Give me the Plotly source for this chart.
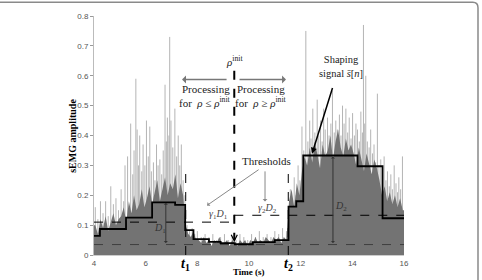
import plotly.graph_objects as go

# ---------------- data ----------------
# dense (dark) part of the rectified sEMG signal, one value per 0.1 s from 4.0 s
bulk_start = 4.0
bulk_step = 0.1
bulk_vals = [
    0.10, 0.07, 0.12, 0.09, 0.13, 0.08, 0.11, 0.14, 0.10, 0.12,
    0.13, 0.16, 0.11, 0.18, 0.14, 0.20, 0.15, 0.17, 0.22, 0.16,
    0.19, 0.23, 0.17, 0.21, 0.25, 0.18, 0.22, 0.26, 0.20, 0.24,
    0.22, 0.27, 0.19, 0.24, 0.20, 0.10, 0.07, 0.06, 0.08, 0.05,
    0.05, 0.04, 0.06, 0.04, 0.05, 0.03, 0.05, 0.04, 0.06, 0.04,
    0.04, 0.05, 0.03, 0.05, 0.04, 0.03, 0.05, 0.04, 0.05, 0.03,
    0.05, 0.04, 0.06, 0.04, 0.05, 0.04, 0.06, 0.05, 0.04, 0.06,
    0.05, 0.06, 0.04, 0.06, 0.05, 0.18, 0.22, 0.16, 0.24, 0.20,
    0.28, 0.33, 0.30, 0.36, 0.31, 0.38, 0.34, 0.29, 0.37, 0.33,
    0.35, 0.40, 0.32, 0.38, 0.42, 0.36, 0.33, 0.39, 0.35, 0.37,
    0.34, 0.30, 0.36, 0.32, 0.28, 0.34, 0.30, 0.27, 0.32, 0.29,
    0.25, 0.20, 0.23, 0.18, 0.21, 0.17, 0.20, 0.16, 0.19, 0.15,
]

# individual light spikes of the signal (time s, amplitude)
spike_t = [
    4.05, 4.15, 4.25, 4.35, 4.45, 4.55, 4.65, 4.75, 4.85, 4.95,
    5.05, 5.15, 5.20, 5.30, 5.42, 5.50, 5.55, 5.62, 5.67, 5.72,
    5.77, 5.85, 5.90, 5.97, 6.03, 6.10, 6.16, 6.22, 6.30, 6.36,
    6.42, 6.48, 6.55, 6.62, 6.68, 6.75, 6.80, 6.84, 6.90, 6.93,
    6.98, 7.05, 7.13, 7.20, 7.26, 7.32, 7.38, 7.45, 7.52,
    7.60, 7.70, 7.80, 7.90, 8.00, 8.15, 8.30, 8.45, 8.60, 8.75,
    8.90, 9.05, 9.20, 9.35, 9.50, 9.65, 9.80, 9.95, 10.10, 10.25,
    10.40, 10.55, 10.70, 10.85, 11.00, 11.15, 11.30, 11.45,
    11.60, 11.68, 11.75, 11.82, 11.90, 11.97, 12.05, 12.12, 12.20, 12.28,
    12.35, 12.40, 12.47, 12.55, 12.64, 12.70, 12.77, 12.83, 12.89, 12.95,
    13.04, 13.10, 13.17, 13.23, 13.30, 13.36, 13.42, 13.50, 13.56, 13.62,
    13.68, 13.75, 13.82, 13.88, 13.95, 14.01, 14.08, 14.14, 14.20, 14.27,
    14.33, 14.39, 14.43, 14.48, 14.52, 14.58, 14.65, 14.71, 14.78, 14.84,
    14.90, 14.97, 15.03, 15.10, 15.17, 15.23, 15.30, 15.36, 15.43, 15.49,
    15.55, 15.62, 15.69, 15.75, 15.80, 15.87, 15.94,
]
spike_v = [
    0.16, 0.12, 0.18, 0.14, 0.18, 0.13, 0.23, 0.17, 0.19, 0.15,
    0.22, 0.18, 0.30, 0.33, 0.44, 0.27, 0.35, 0.59, 0.42, 0.30,
    0.40, 0.28, 0.37, 0.30, 0.45, 0.33, 0.43, 0.28, 0.31, 0.25,
    0.37, 0.30, 0.32, 0.27, 0.35, 0.57, 0.38, 0.46, 0.40, 0.73,
    0.45, 0.36, 0.49, 0.33, 0.40, 0.30, 0.37, 0.25, 0.20,
    0.10, 0.08, 0.09, 0.07, 0.08, 0.06, 0.07, 0.06, 0.07, 0.05,
    0.06, 0.07, 0.05, 0.06, 0.05, 0.07, 0.06, 0.05, 0.07, 0.06,
    0.08, 0.06, 0.07, 0.06, 0.08, 0.07, 0.09, 0.08,
    0.22, 0.18, 0.26, 0.20, 0.30, 0.25, 0.43, 0.35, 0.75, 0.38,
    0.45, 0.39, 0.49, 0.41, 0.52, 0.40, 0.45, 0.38, 0.49, 0.42,
    0.46, 0.40, 0.44, 0.55, 0.41, 0.45, 0.42, 0.47, 0.40, 0.50,
    0.44, 0.49, 0.41, 0.46, 0.39, 0.475, 0.40, 0.44, 0.42, 0.38,
    0.48, 0.41, 0.77, 0.44, 0.60, 0.38, 0.36, 0.42, 0.34, 0.37,
    0.31, 0.54, 0.30, 0.32, 0.27, 0.33, 0.25, 0.28, 0.23, 0.27,
    0.22, 0.30, 0.24, 0.21, 0.26, 0.22, 0.33,
]

# shaping signal (step function): level starts at each time
shape_t = [4.0, 4.23, 5.24, 6.25, 7.14, 7.53, 7.85, 8.45, 8.90, 9.45,
           10.15, 11.0, 11.53, 11.83, 12.10, 14.20, 15.17, 16.0]
shape_v = [0.064, 0.087, 0.125, 0.176, 0.168, 0.083, 0.053, 0.044, 0.040, 0.036,
           0.043, 0.050, 0.162, 0.180, 0.333, 0.297, 0.123, 0.123]

# thresholds and reference instants
t1, t2, rho_init_t = 7.55, 11.52, 9.43
thr1_v, thr2_v = 0.11, 0.133          # gamma1*D1, gamma2*D2
noise_v = 0.035                        # noise floor level
D1_t, D1_top = 6.78, 0.175
D2_t, D2_top = 13.25, 0.33

x_ticks = [4, 6, 8, 10, 12, 14, 16]
y_ticks = [0, 0.1, 0.2, 0.3, 0.4, 0.5, 0.6, 0.7, 0.8]
y_ticklabels = ["0", "0.1", "0.2", "0.3", "0.4", "0.5", "0.6", "0.7", "0.8"]
Y_MAX = 0.8

SERIF = "Liberation Serif"
SANS = "Liberation Sans"

fig = go.Figure()

# light spikes
sx, sy = [], []
for t, v in zip(spike_t, spike_v):
    sx += [t, t, None]
    sy += [0, v, None]
fig.add_trace(go.Scatter(x=sx, y=sy, mode="lines",
                         line=dict(color="#b4b4b4", width=1), hoverinfo="skip"))

# dark dense part
bx = [bulk_start + (i + 0.5) * bulk_step for i in range(len(bulk_vals))]
fig.add_trace(go.Scatter(x=[4.0] + bx + [16.0], y=[bulk_vals[0]] + bulk_vals + [bulk_vals[-1]],
                         mode="lines", line=dict(width=0),
                         fill="tozeroy", fillcolor="#737373", hoverinfo="skip"))

# threshold lines
fig.add_trace(go.Scatter(x=[4, rho_init_t], y=[thr1_v, thr1_v], mode="lines",
                         line=dict(color="black", width=1, dash="dash")))
fig.add_trace(go.Scatter(x=[rho_init_t, 16], y=[thr2_v, thr2_v], mode="lines",
                         line=dict(color="black", width=1, dash="dash")))
fig.add_trace(go.Scatter(x=[4, 16], y=[noise_v, noise_v], mode="lines",
                         line=dict(color="#333333", width=0.8, dash="dash")))
# t1, t2 verticals
for tt in (t1, t2):
    fig.add_trace(go.Scatter(x=[tt, tt], y=[0, 0.28], mode="lines",
                             line=dict(color="black", width=1, dash="dash")))
# rho_init line
fig.add_trace(go.Scatter(x=[rho_init_t, rho_init_t], y=[0.617, 0.05], mode="lines",
                         line=dict(color="black", width=2, dash="dash")))

# shaping signal
fig.add_trace(go.Scatter(x=shape_t, y=shape_v, mode="lines",
                         line=dict(color="black", width=1.8, shape="hv")))

ann = []
def text(x, y, s, size=10, color="#222", family=SERIF, yref="y", **kw):
    if yref == "paper":
        y = y / Y_MAX
    ann.append(dict(x=x, y=y, xref="x", yref=yref, text=s, showarrow=False,
                    xanchor="center", yanchor="middle",
                    font=dict(family=family, size=size, color=color), **kw))

def arrow(x0, y0, x1, y1, color="#777", width=1, head=1, size=1, side="end"):
    ann.append(dict(x=x1, y=y1, ax=x0, ay=y0, xref="x", yref="y", axref="x", ayref="y",
                    text="", showarrow=True, arrowcolor=color, arrowwidth=width,
                    arrowhead=head, arrowsize=size, arrowside=side,
                    startarrowhead=head, startarrowsize=size))

# rho_init chevron
arrow(rho_init_t, 0.06, rho_init_t, 0.043, color="black", width=1.2, head=5, size=1)

text(rho_init_t, 0.650, "<i>ρ</i><sup>init</sup>", size=11)
arrow(9.19, 0.5875, 7.41, 0.5875, color="#777", width=1.3, head=1, size=1)
arrow(9.575, 0.5875, 11.43, 0.5875, color="#777", width=1.3, head=1, size=1)
text(8.33, 0.556, "Processing", size=11)
text(8.28, 0.512, "for  <i>ρ</i> ≤ <i>ρ</i><sup>init</sup>", size=11)
text(10.45, 0.556, "Processing", size=11)
text(10.45, 0.512, "for  <i>ρ</i> ≥ <i>ρ</i><sup>init</sup>", size=11)

text(10.66, 0.315, "Thresholds", size=11)
arrow(10.43, 0.289, 8.375, 0.166, color="#888", width=1, head=1, size=0.8)
arrow(10.62, 0.285, 10.62, 0.179, color="#888", width=1, head=1, size=0.8)
text(8.80, 0.135, "<i>γ</i><sub>1</sub><i>D</i><sub>1</sub>", size=10, color="#444")
text(10.70, 0.155, "<i>γ</i><sub>2</sub><i>D</i><sub>2</sub>", size=10, color="#444")

text(13.56, 0.630, "Shaping<br>signal <i>s\u0304</i>[<i>n</i>]", size=10.5)
arrow(13.25, 0.564, 12.44, 0.339, color="black", width=1.5, head=2, size=0.8)

arrow(D1_t, noise_v, D1_t, D1_top, color="#333", width=1, head=1, size=0.7, side="end+start")
text(6.55, 0.09, "<i>D</i><sub>1</sub>", size=10, color="#333")
arrow(D2_t, noise_v, D2_t, D2_top, color="#333", width=1, head=1, size=0.7, side="end+start")
text(13.56, 0.163, "<i>D</i><sub>2</sub>", size=10, color="#333")

text(t1, -0.031, "<b><i>t</i><sub>1</sub></b>", size=14, color="black", yref="paper")
text(t2, -0.031, "<b><i>t</i><sub>2</sub></b>", size=14, color="black", yref="paper")
text(10.0, -0.057, "<b>Time (s)</b>", size=9, color="black", yref="paper")
ann.append(dict(x=-0.07, y=0.5, xref="paper", yref="paper", text="<b>sEMG amplitude</b>",
                textangle=-90, showarrow=False, xanchor="center", yanchor="middle",
                font=dict(family=SERIF, size=10, color="black")))

fig.update_layout(
    width=482, height=280,
    margin=dict(l=94, r=78, t=16, b=23),
    paper_bgcolor="white", plot_bgcolor="white",
    showlegend=False,
    annotations=ann,
    xaxis=dict(range=[4, 16], tickvals=x_ticks, ticktext=[str(v) for v in x_ticks],
               showgrid=False, zeroline=False, showline=True, linecolor="#cccccc",
               linewidth=1, ticks="", tickfont=dict(family=SANS, size=8, color="#555"),
               ticklabelstandoff=0),
    yaxis=dict(range=[0, Y_MAX], tickvals=y_ticks, ticktext=y_ticklabels,
               showgrid=False, zeroline=False, showline=True, linecolor="#bbbbbb",
               linewidth=1, ticks="outside", ticklen=3, tickcolor="#999",
               tickfont=dict(family=SANS, size=8, color="#555")),
    shapes=[dict(type="path", xref="paper", yref="paper",
                 path="M -0.31,1.058 L 1.222,1.058 Q 1.2387,1.058 1.2387,1.035 L 1.2387,-0.12",
                 line=dict(color="#8a8a8a", width=1.5))],
)

fig.write_html("out.html")
